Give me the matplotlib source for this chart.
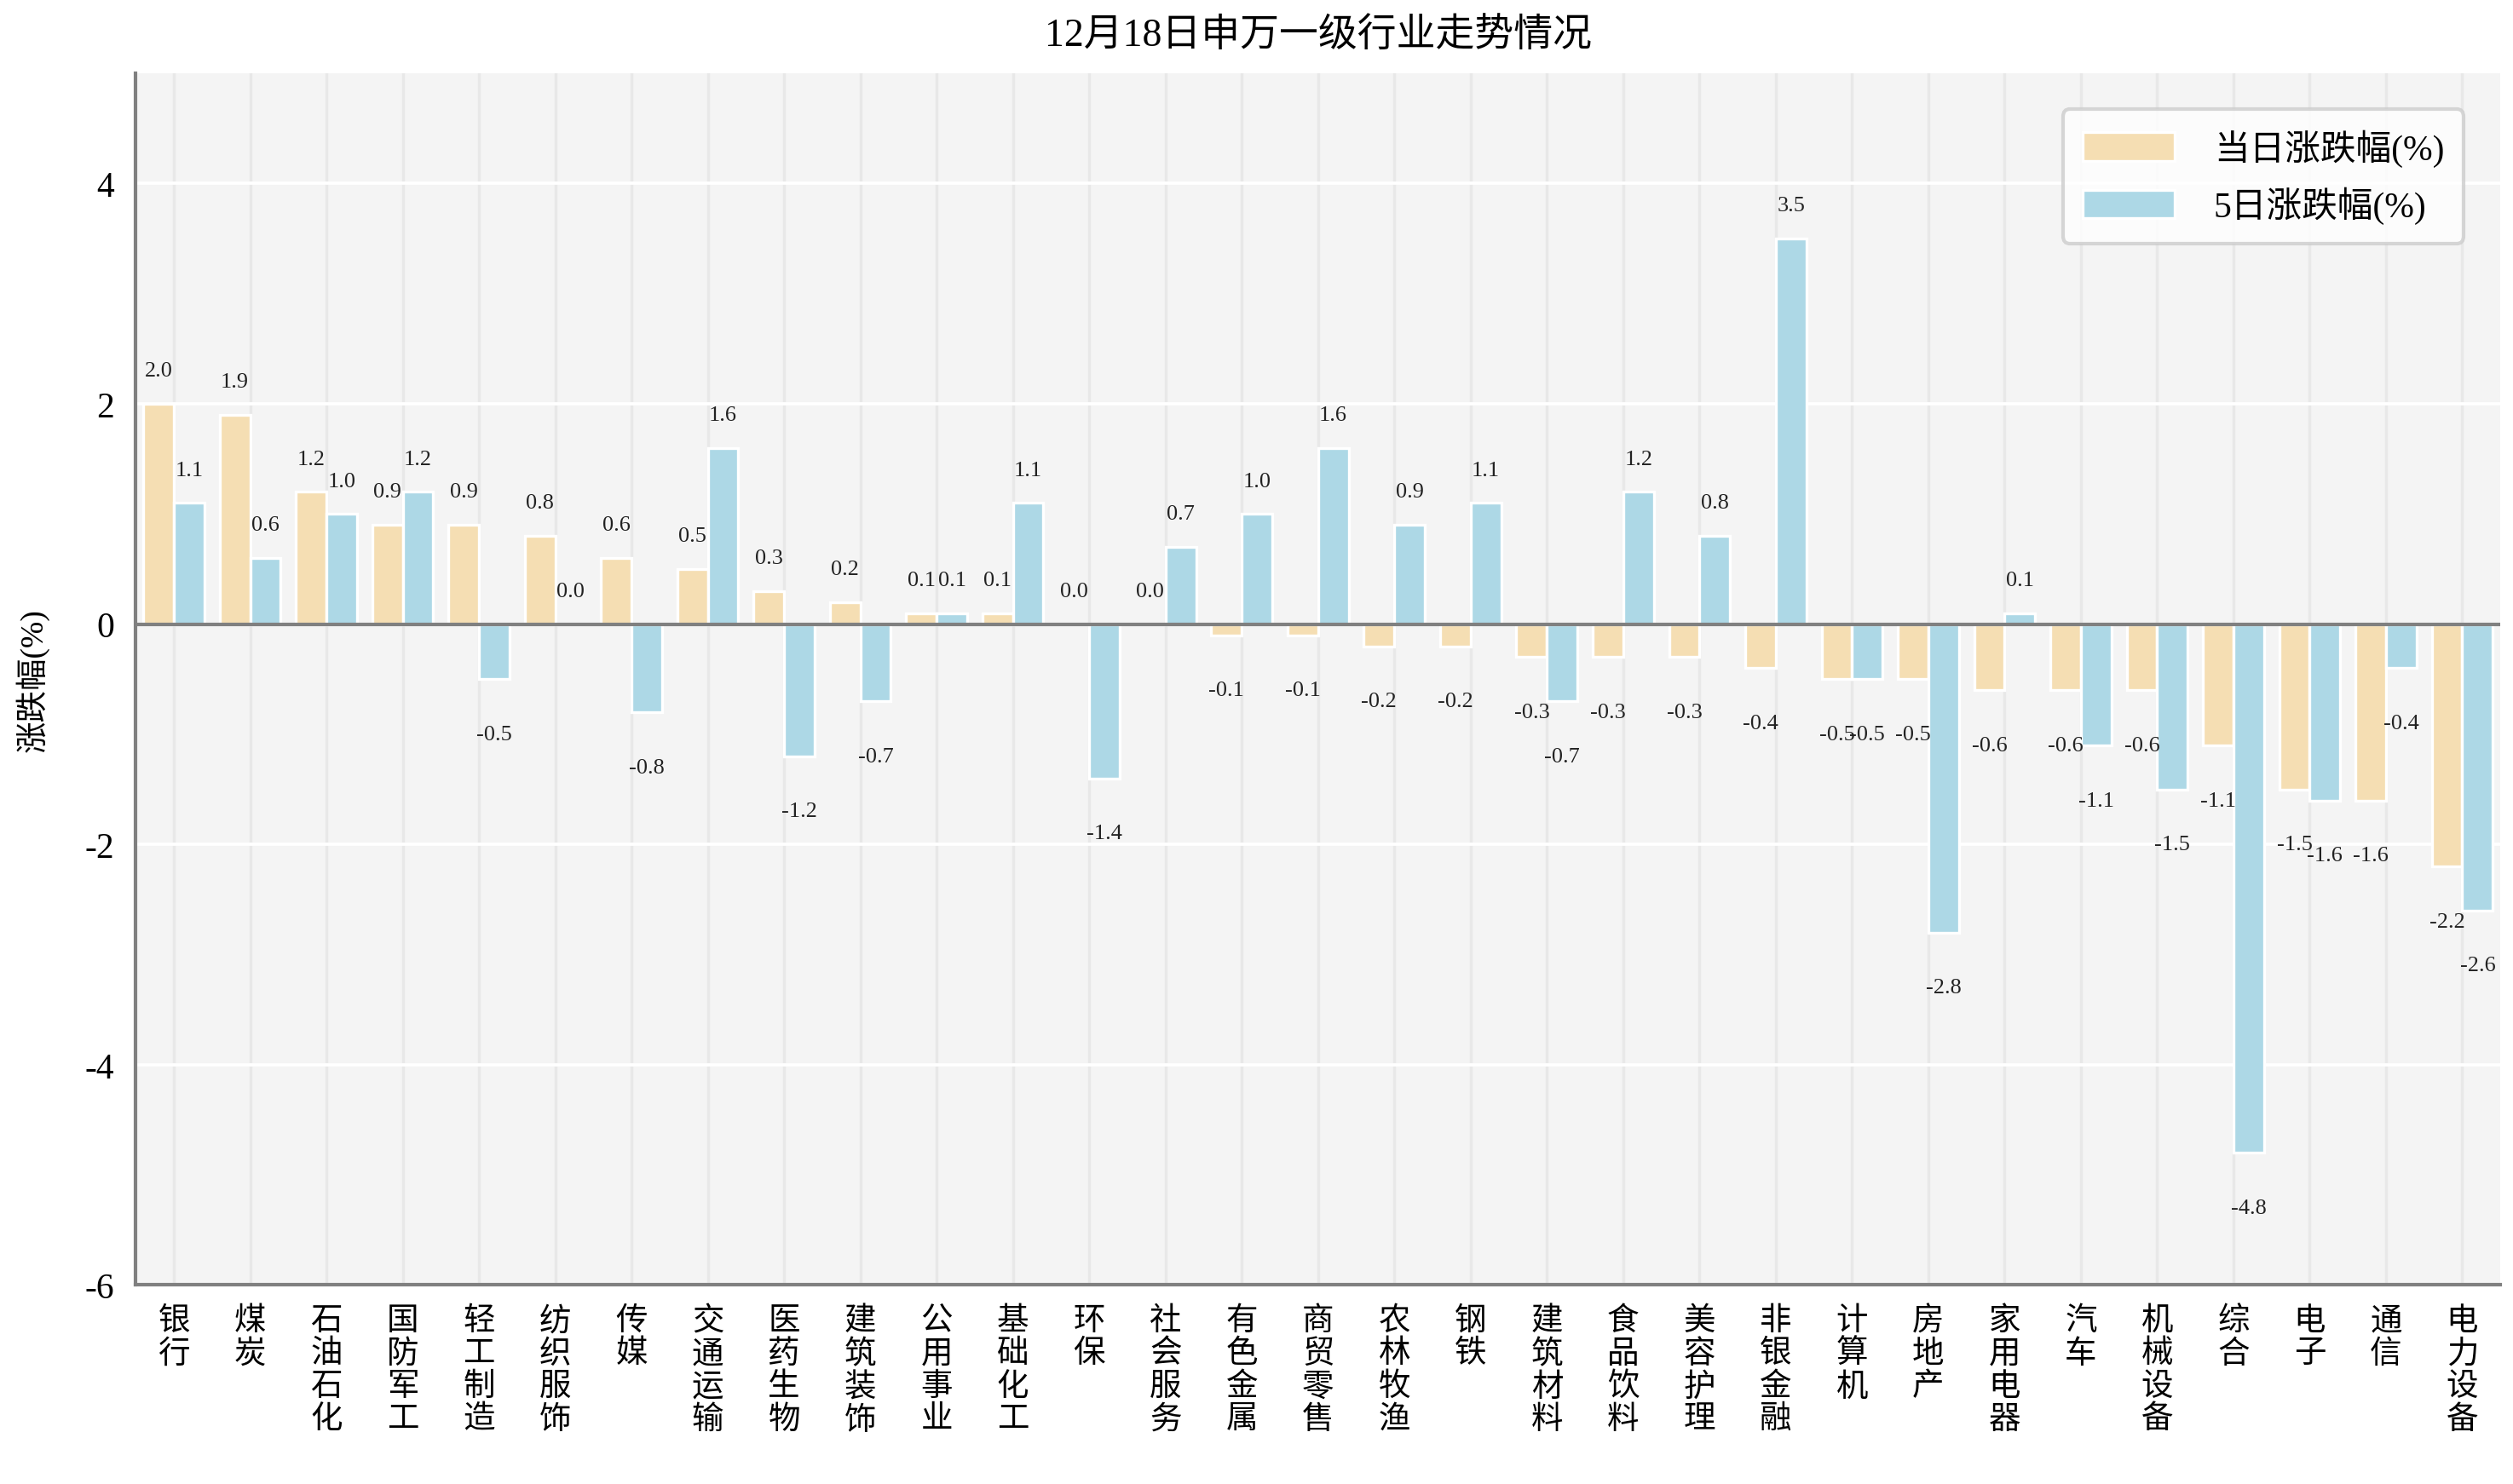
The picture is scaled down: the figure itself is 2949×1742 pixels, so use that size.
import numpy as np
import matplotlib
matplotlib.use("Agg")
import matplotlib.pyplot as plt

plt.rcParams["font.family"] = ["Liberation Serif", "Noto Sans CJK SC"]
plt.rcParams["axes.unicode_minus"] = False

industries = ["银行", "煤炭", "石油石化", "国防军工", "轻工制造", "纺织服饰", "传媒", "交通运输",
              "医药生物", "建筑装饰", "公用事业", "基础化工", "环保", "社会服务", "有色金属", "商贸零售",
              "农林牧渔", "钢铁", "建筑材料", "食品饮料", "美容护理", "非银金融", "计算机", "房地产",
              "家用电器", "汽车", "机械设备", "综合", "电子", "通信", "电力设备"]
day_chg = [2.0, 1.9, 1.2, 0.9, 0.9, 0.8, 0.6, 0.5, 0.3, 0.2, 0.1, 0.1, 0.0, 0.0, -0.1, -0.1,
           -0.2, -0.2, -0.3, -0.3, -0.3, -0.4, -0.5, -0.5, -0.6, -0.6, -0.6, -1.1, -1.5, -1.6, -2.2]
five_day_chg = [1.1, 0.6, 1.0, 1.2, -0.5, 0.0, -0.8, 1.6, -1.2, -0.7, 0.1, 1.1, -1.4, 0.7, 1.0, 1.6,
                0.9, 1.1, -0.7, 1.2, 0.8, 3.5, -0.5, -2.8, 0.1, -1.1, -1.5, -4.8, -1.6, -0.4, -2.6]
series_names = ["当日涨跌幅(%)", "5日涨跌幅(%)"]

fig = plt.figure(figsize=(2949 / 300, 1743 / 300), dpi=300)
ax = fig.add_axes([0.054, 0.134, 0.941, 0.816])
ax.set_facecolor("#f4f4f4")

x = np.arange(len(industries))
w = 0.4
b1 = ax.bar(x - w / 2, day_chg, w, color="#F5DEB3", edgecolor="white", linewidth=0.8,
            label=series_names[0], zorder=3)
b2 = ax.bar(x + w / 2, five_day_chg, w, color="#ADD8E6", edgecolor="white", linewidth=0.8,
            label=series_names[1], zorder=3)

# value labels: above positive bars, below negative ones
for bars, vals in ((b1, day_chg), (b2, five_day_chg)):
    for rect, v in zip(bars, vals):
        cx = rect.get_x() + rect.get_width() / 2
        y = v + 0.3 if v >= 0 else v - 0.5
        ax.text(cx, y, f"{v:.1f}", ha="center", va="center", fontsize=6.3, color="#222222", zorder=4)

ax.axhline(0, color="#808080", lw=1.0, zorder=4)

ax.set_xlim(-0.5, len(industries) - 0.5)
ax.set_ylim(-6, 5)
ax.set_yticks([-6, -4, -2, 0, 2, 4])
ax.set_yticklabels(["-6", "-4", "-2", "0", "2", "4"], fontsize=10)
ax.set_xticks(x)
ax.set_xticklabels(["\n".join(n) for n in industries], fontsize=9, linespacing=1.15, va="top")
ax.tick_params(axis="both", length=0, pad=6)

ax.yaxis.grid(True, color="white", lw=0.9, zorder=1)
ax.xaxis.grid(True, color="#e8e8e8", lw=0.8, zorder=1)
ax.set_axisbelow(True)

for s in ("top", "right"):
    ax.spines[s].set_visible(False)
for s in ("left", "bottom"):
    ax.spines[s].set_color("#808080")
    ax.spines[s].set_linewidth(1.0)

ax.set_ylabel("涨跌幅(%)", fontsize=9, labelpad=10)
ax.set_title("12月18日申万一级行业走势情况", fontsize=11, pad=8)

leg = ax.legend(loc="upper right", fontsize=10, frameon=True, fancybox=True,
                handlelength=2.6, handleheight=0.85, handletextpad=1.1, borderpad=0.55,
                labelspacing=0.55, bbox_to_anchor=(0.992, 0.985))
leg.get_frame().set_edgecolor("#cccccc")
leg.get_frame().set_facecolor("white")
leg.get_frame().set_linewidth(1.0)

fig.savefig("out.png", dpi=300)
